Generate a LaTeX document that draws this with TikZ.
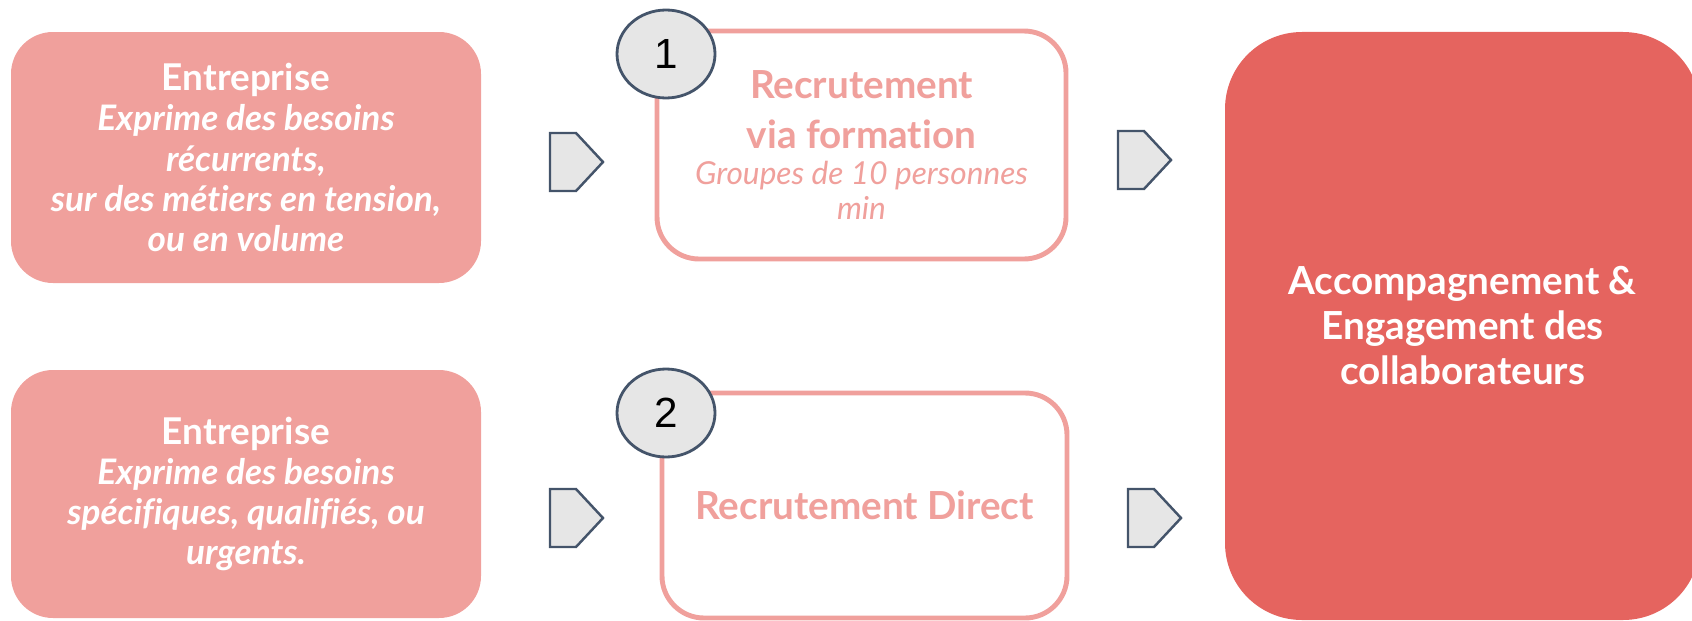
\documentclass[tikz,border=0pt]{standalone}
\usepackage{fontspec}
\setmainfont{Lato}[Ligatures=NoCommon]
\newfontfamily\numfont{Liberation Sans}
\usetikzlibrary{shapes.geometric}

\definecolor{salmon}{HTML}{F0A09C}
\definecolor{coral}{HTML}{E5645F}
\definecolor{slate}{HTML}{44546A}
\definecolor{badgegray}{HTML}{E6E6E6}

\newcommand{\headfont}{\fontsize{11}{14.2}\selectfont\bfseries\upshape}
\newcommand{\subfont}{\fontsize{9}{10.2}\selectfont\mdseries\itshape}

\tikzset{
  needbox/.style={rectangle, rounded corners=0.42cm, fill=salmon, text=white, align=center, inner sep=0pt,
    font=\fontsize{10}{11.4}\selectfont\bfseries\itshape},
  waybox/.style={rectangle, rounded corners=0.42cm, draw=salmon, line width=1.4pt, fill=white, text=salmon,
    align=center, inner sep=0pt},
  resultbox/.style={rectangle, rounded corners=0.77cm, fill=coral, text=white, align=center, inner sep=0pt,
    font=\fontsize{11}{12.8}\selectfont\bfseries},
  badge/.style={ellipse, draw=slate, line width=0.8pt, fill=badgegray, inner sep=0pt,
    minimum width=0.98cm, minimum height=0.88cm, font=\numfont\fontsize{12}{12}\selectfont},
  arrowtag/.style={draw=slate, line width=0.7pt, fill=badgegray, line join=miter}
}

\begin{document}
\begin{tikzpicture}
    \useasboundingbox (0,0) rectangle (16.92,6.2);

    % Needs of the company
    \node[needbox, minimum width=4.70cm, minimum height=2.51cm] (need1) at (2.46,4.625)
        {\textup{\fontsize{10.5}{11.4}\selectfont Entreprise}\\Exprime des besoins\\r\'ecurrents,\\sur des m\'etiers en tension,\\ou en volume};
    \node[needbox, minimum width=4.70cm, minimum height=2.48cm] (need2) at (2.46,1.26)
        {\textup{\fontsize{10.5}{11.4}\selectfont Entreprise}\\Exprime des besoins\\sp\'ecifiques, qualifi\'es, ou\\urgents.};

    % Recruitment ways
    \node[waybox, minimum width=4.09cm, minimum height=2.28cm, font=\headfont] (way1) at (8.615,4.75)
        {Recrutement\\via formation\\[-4pt]\subfont Groupes de 10 personnes\\[-4.4pt]\subfont min};
    \node[waybox, minimum width=4.05cm, minimum height=2.25cm, font=\headfont] (way2) at (8.645,1.145)
        {Recrutement Direct};

    \node[badge] (num1) at (6.66,5.66) {1};
    \node[badge] (num2) at (6.66,2.07) {2};

    % Result
    \node[resultbox, minimum width=4.75cm, minimum height=5.88cm] (result) at (14.625,2.94)
        {Accompagnement \&\\Engagement des\\collaborateurs};

    % Arrow tags
    \foreach \x/\y in {5.50/4.58, 11.18/4.60, 5.50/1.02, 11.28/1.02}
        \draw[arrowtag] (\x,\y-0.29) -- ++(0.26,0) -- ++(0.27,0.29) -- ++(-0.27,0.29) -- ++(-0.26,0) -- cycle;
\end{tikzpicture}
\end{document}
